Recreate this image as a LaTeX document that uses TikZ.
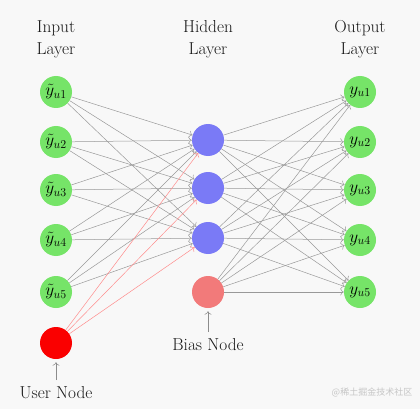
\documentclass[tikz,border=0pt]{standalone}
\usepackage{fontspec}
\usetikzlibrary{arrows.meta}
\newfontfamily\cjk{Noto Sans CJK SC}
\definecolor{ingreen}{RGB}{118,228,104}
\definecolor{hidblue}{RGB}{122,122,246}
\definecolor{userred}{RGB}{250,0,0}
\definecolor{biasred}{RGB}{242,122,122}
\definecolor{bgc}{RGB}{248,248,248}
\begin{document}
\begin{tikzpicture}[x=1pt,y=-1pt,
  >={To[length=3.5pt,width=7pt]},
  neuron/.style={circle,minimum size=32pt,inner sep=0pt,font=\fontsize{17.5}{20}\selectfont},
  innode/.style={neuron,fill=ingreen},
  hidnode/.style={neuron,fill=hidblue},
  outnode/.style={neuron,fill=ingreen},
  usernode/.style={neuron,fill=userred},
  biasnode/.style={neuron,fill=biasred},
  lbl/.style={align=center,font=\fontsize{17.3}{22}\selectfont,text=black!90},
  conn/.style={->,draw=gray!80,line width=0.5pt},
  uconn/.style={->,draw=red!45,line width=0.5pt},
  ptr/.style={->,draw=gray!90,line width=0.5pt,shorten >=3pt}]
\fill[bgc] (0,0) rectangle (420,409);
\useasboundingbox (0,0) rectangle (420,409);
% labels
\node[lbl] (lin) at (56,39) {Input\\Layer};
\node[lbl] (lhid) at (208,39) {Hidden\\Layer};
\node[lbl] (lout) at (360,39) {Output\\Layer};
% nodes
\foreach \i/\y in {1/92,2/142,3/190,4/240,5/292}{
  \node[innode] (I\i) at (56,\y) {$\tilde{y}_{u\i}$};
  \node[outnode] (O\i) at (360,\y) {$y_{u\i}$};
}
\foreach \j/\y in {1/140,2/188,3/238}{
  \node[hidnode] (H\j) at (208,\y) {};
}
\node[biasnode] (B) at (208,292) {};
\node[usernode] (U) at (56,343) {};
% edges
\foreach \i in {1,...,5}{
  \foreach \j in {1,2,3}{
    \draw[conn] (I\i) -- (H\j);
  }
}
\foreach \j in {1,2,3}{
  \draw[uconn] (U) -- (H\j);
  \foreach \k in {1,...,5}{
    \draw[conn] (H\j) -- (O\k);
  }
}
\foreach \k in {1,...,5}{
  \draw[conn] (B) -- (O\k);
}
% pointers
\node[lbl] (bl) at (208,345) {Bias Node};
\node[lbl] (ul) at (56,393) {User Node};
\coordinate (bp) at (208,332);
\coordinate (up) at (56,380);
\draw[ptr] (bp) -- (B.south);
\draw[ptr] (up) -- (U.south);
\node[font=\cjk\fontsize{9}{10}\selectfont,text=gray!45] (wm) at (372,392) {@稀土掘金技术社区};
\end{tikzpicture}
\end{document}
